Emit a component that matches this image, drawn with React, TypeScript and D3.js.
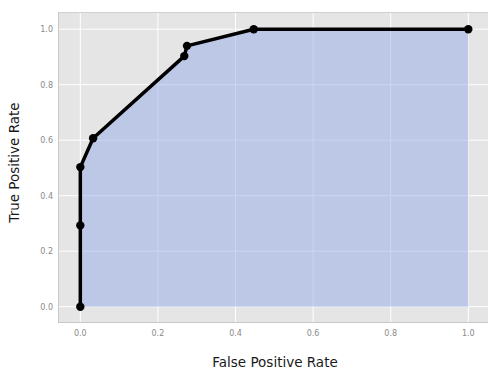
import React from "react";
import * as d3 from "d3";

const fpr = [0, 0, 0, 0.033, 0.268, 0.275, 0.447, 1.0];
const tpr = [0, 0.293, 0.503, 0.607, 0.903, 0.94, 1.0, 1.0];
const xTicks = [0, 0.2, 0.4, 0.6, 0.8, 1.0];
const yTicks = [0, 0.2, 0.4, 0.6, 0.8, 1.0];

const W = 488;
const H = 369;
const left = 58;
const top = 12;
const right = 488;
const bottom = 323;

export default function App() {
  const x = d3.scaleLinear().domain([-0.0575, 1.0508]).range([left, right]);
  const y = d3.scaleLinear().domain([-0.0588, 1.0620]).range([bottom, top]);

  const pts: [number, number][] = fpr.map((f, i) => [f, tpr[i]]);

  const area = d3
    .area<[number, number]>()
    .x(d => x(d[0]))
    .y0(y(0))
    .y1(d => y(d[1]));

  const line = d3
    .line<[number, number]>()
    .x(d => x(d[0]))
    .y(d => y(d[1]));

  const font = "'DejaVu Sans', sans-serif";

  return (
    <svg
      width={W}
      height={H}
      style={{ position: "absolute", left: 0, top: 0 }}
      fontFamily={font}
    >
      <rect x={0} y={0} width={W} height={H} fill="#ffffff" />
      <rect x={left} y={top} width={right - left} height={bottom - top} fill="#e5e5e5" />
      {xTicks.map(t => (
        <line key={"gx" + t} x1={x(t)} x2={x(t)} y1={top} y2={bottom} stroke="#ffffff" strokeWidth={1} />
      ))}
      {yTicks.map(t => (
        <line key={"gy" + t} x1={left} x2={right} y1={y(t)} y2={y(t)} stroke="#ffffff" strokeWidth={1} />
      ))}
      <path d={area(pts) || ""} fill="#96aae8" fillOpacity={0.5} />
      <line x1={left} x2={right} y1={top + 0.5} y2={top + 0.5} stroke="#d0d0d0" />
      <line x1={left + 0.5} x2={left + 0.5} y1={top} y2={bottom} stroke="#c8c8c8" />
      <line x1={left} x2={right} y1={bottom - 0.5} y2={bottom - 0.5} stroke="#c8c8c8" />
      <path d={line(pts) || ""} fill="none" stroke="#000000" strokeWidth={3.5} strokeLinejoin="round" />
      {pts.map((d, i) => (
        <circle key={i} cx={x(d[0])} cy={y(d[1])} r={4.2} fill="#000000" />
      ))}
      {xTicks.map(t => (
        <text key={"tx" + t} x={x(t)} y={bottom + 13} textAnchor="middle" fontSize={8} fill="#8a8a8a">
          {t.toFixed(1)}
        </text>
      ))}
      {yTicks.map(t => (
        <text key={"ty" + t} x={left - 5} y={y(t) + 3} textAnchor="end" fontSize={8} fill="#8a8a8a">
          {t.toFixed(1)}
        </text>
      ))}
      <text x={(left + right) / 2 + 2} y={367} textAnchor="middle" fontSize={13.5} fill="#1a1a1a">
        False Positive Rate
      </text>
      <text
        transform={`translate(19, ${(top + bottom) / 2 - 5}) rotate(-90)`}
        textAnchor="middle"
        fontSize={13.5}
        fill="#1a1a1a"
      >
        True Positive Rate
      </text>
    </svg>
  );
}
